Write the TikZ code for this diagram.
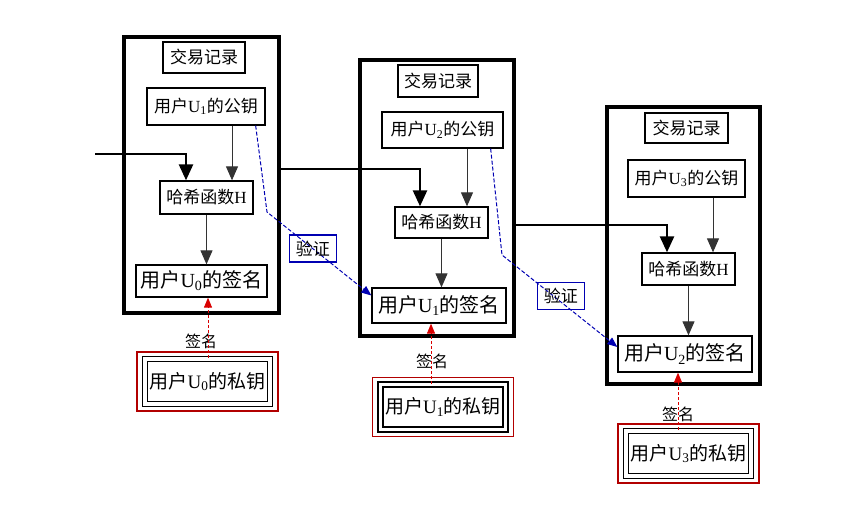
\documentclass[tikz,border=0pt]{standalone}
\usepackage{fontspec}
\setmainfont{Noto Sans CJK SC}
\newfontfamily\lat{Liberation Serif}
\usetikzlibrary{arrows.meta}

\newcommand{\Usub}[1]{{\lat U\textsubscript{#1}}}
\newcommand{\fsz}[1]{\fontsize{#1}{#1}\selectfont}

\begin{document}
\begin{tikzpicture}[x=1pt,y=-1pt,
  block/.style={draw,line width=4.5pt},
  item/.style={draw,line width=1.3pt,inner sep=0pt,font=\fsz{17}},
  sig/.style={item,font=\fsz{20}},
  key/.style={draw,line width=1.6pt,double,double distance=3.4pt,inner sep=0pt,
    font=\fsz{19},minimum width=125pt,minimum height=45pt},
  keyframe/.style={draw=red!70!black,line width=1.8pt,minimum width=141pt,minimum height=59pt},
  signlbl/.style={inner sep=0pt,font=\fsz{16}},
  checkbox/.style={draw=blue!70!black,solid,line width=1.6pt,inner sep=0pt,text=black,
    minimum width=47pt,minimum height=27pt,font=\fsz{17}},
  chain/.style={line width=2.5pt,-{Triangle[length=16pt,width=14pt]}},
  flow/.style={line width=1pt,black!80,-{Triangle[length=14pt,width=12pt]}},
  verify/.style={blue!70!black,line width=1pt,dash pattern=on 4pt off 2pt,-{Triangle[length=10pt,width=8pt]}},
  signline/.style={red!85!black,line width=1pt,dash pattern=on 3pt off 2pt,-{Triangle[length=10pt,width=8pt]}}]

  \useasboundingbox (0,0) rectangle (867,510);

  % blocks
  \node[block,minimum width=155pt,minimum height=276pt] (blk1) at (201.5,175) {};
  \node[block,minimum width=154pt,minimum height=276pt] (blk2) at (437,198) {};
  \node[block,minimum width=153pt,minimum height=277pt] (blk3) at (683.5,245.5) {};

  % block 1
  \node[item,minimum width=82pt,minimum height=31pt] (rec1) at (204,57.5) {交易记录};
  \node[item,minimum width=118pt,minimum height=37pt] (pub1) at (206,106.5) {用户\Usub{1}的公钥};
  \node[item,minimum width=93pt,minimum height=33pt] (hash1) at (206.5,197.5) {哈希函数{\lat H}};
  \node[sig,minimum width=131pt,minimum height=32pt] (sig1) at (201.5,281) {用户\Usub{0}的签名};
  \node[keyframe] (frame1) at (207.5,381.5) {};
  \node[key] (key1) at (frame1) {用户\Usub{0}的私钥};
  \node[signlbl] (lbl1) at (201,341) {签名};

  % block 2
  \node[item,minimum width=80pt,minimum height=32pt] (rec2) at (438,81) {交易记录};
  \node[item,minimum width=121pt,minimum height=36pt] (pub2) at (442.5,130) {用户\Usub{2}的公钥};
  \node[item,minimum width=93pt,minimum height=31pt] (hash2) at (441.5,222.5) {哈希函数{\lat H}};
  \node[sig,minimum width=134pt,minimum height=35pt] (sig2) at (439,305.5) {用户\Usub{1}的签名};
  \node[keyframe] (frame2) at (443,407) {};
  \node[key] (key2) at (frame2) {用户\Usub{1}的私钥};
  \node[signlbl] (lbl2) at (432,361) {签名};

  % block 3
  \node[item,minimum width=83pt,minimum height=30pt] (rec3) at (686.5,128) {交易记录};
  \node[item,minimum width=117pt,minimum height=37pt] (pub3) at (686.5,178.5) {用户\Usub{3}的公钥};
  \node[item,minimum width=93pt,minimum height=32pt] (hash3) at (688.5,269) {哈希函数{\lat H}};
  \node[sig,minimum width=134pt,minimum height=36pt] (sig3) at (685,354) {用户\Usub{2}的签名};
  \node[keyframe] (frame3) at (688.5,453.5) {};
  \node[key] (key3) at (frame3) {用户\Usub{3}的私钥};
  \node[signlbl] (lbl3) at (678,414) {签名};

  % chain between blocks
  \coordinate (in1) at (95,154);
  \draw[chain] (in1) -| ([xshift=-20.5pt]hash1.north);
  \draw[chain] ([yshift=6pt]blk1.east) -| ([xshift=-21.5pt]hash2.north);
  \draw[chain] ([yshift=-27pt]blk2.east) -| ([xshift=-21.5pt]hash3.north);

  % inside the blocks
  \draw[flow] ([xshift=26pt]pub1.south) -- ([xshift=26pt]pub1.south |- hash1.north);
  \draw[flow] (hash1.south) -- (hash1.south |- sig1.north);
  \draw[flow] ([xshift=24.5pt]pub2.south) -- ([xshift=24.5pt]pub2.south |- hash2.north);
  \draw[flow] (hash2.south) -- (hash2.south |- sig2.north);
  \draw[flow] ([xshift=26.5pt]pub3.south) -- ([xshift=26.5pt]pub3.south |- hash3.north);
  \draw[flow] (hash3.south) -- (hash3.south |- sig3.north);

  % signing
  \draw[signline] ([xshift=0.5pt]key1.north) -- ([xshift=0.5pt]key1.north |- sig1.south);
  \draw[signline] ([xshift=-12pt]key2.north) -- ([xshift=-12pt]key2.north |- sig2.south);
  \draw[signline] ([xshift=-10.5pt]key3.north) -- ([xshift=-10.5pt]key3.north |- sig3.south);

  % verifying
  \coordinate (bend1) at (267,212);
  \coordinate (bend2) at (502,255);
  \draw[verify] ([xshift=-10pt]pub1.south east) -- (bend1)
    -- node[checkbox,pos=0.44] (chk1) {验证} ([yshift=10pt]sig2.west);
  \draw[verify] ([xshift=-13pt]pub2.south east) -- (bend2)
    -- node[checkbox,pos=0.51,yshift=6pt] (chk2) {验证} ([yshift=7pt]sig3.west);

\end{tikzpicture}
\end{document}
